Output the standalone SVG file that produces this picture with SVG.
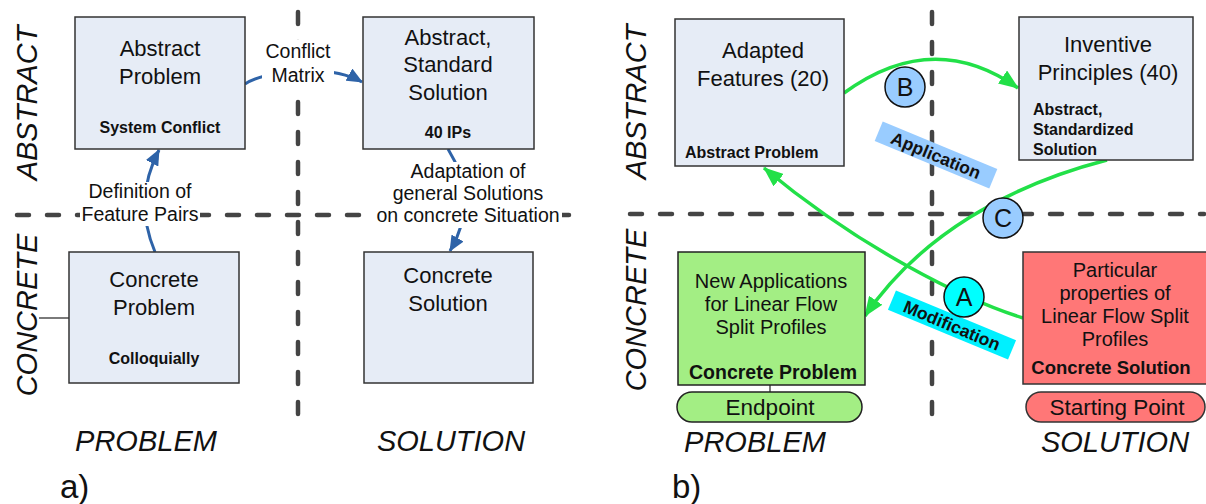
<svg xmlns="http://www.w3.org/2000/svg" width="1206" height="504" viewBox="0 0 1206 504">
<style>
text{font-family:"Liberation Sans",Arial,sans-serif;fill:#111}
.box{fill:#E6ECF6;stroke:#333;stroke-width:1.5}
.t{font-size:22px;text-anchor:middle}
.lb{font-size:19.5px;text-anchor:middle}
.bd{font-size:16px;font-weight:bold;text-anchor:middle}
.ax{font-size:29px;font-style:italic;text-anchor:middle}
.dash{stroke:#444;stroke-width:4.5;stroke-dasharray:12 18;stroke-linecap:round;fill:none}
.blue{stroke:#2E63A8;stroke-width:3;fill:none}
.green{stroke:#22E048;stroke-width:3.5;fill:none}
.circ{stroke:#111;stroke-width:1.5}
.ct{font-size:25px;text-anchor:middle}
.wbg{fill:#fff}
</style>
<defs>
<marker id="ab" markerUnits="userSpaceOnUse" markerWidth="16" markerHeight="14" viewBox="0 0 16 14" refX="15" refY="7" orient="auto"><path d="M0,0 L16,7 L0,14 z" fill="#2E63A8"/></marker>
<marker id="ag" markerUnits="userSpaceOnUse" markerWidth="20" markerHeight="16" viewBox="0 0 20 16" refX="19" refY="8" orient="auto"><path d="M0,0 L20,8 L0,16 z" fill="#22E048"/></marker>
</defs>

<!-- grid lines -->
<g id="grid">
<line class="dash" x1="17" y1="215" x2="585" y2="215"/>
<line class="dash" x1="298" y1="12" x2="298" y2="432"/>
<line class="dash" x1="630" y1="214" x2="1204" y2="214"/>
<line class="dash" x1="932" y1="12" x2="932" y2="432"/>
</g>

<!-- axis labels -->
<g id="axes">
<text class="ax" transform="translate(37,103) rotate(-90)">ABSTRACT</text>
<text class="ax" transform="translate(37,315) rotate(-90)">CONCRETE</text>
<text class="ax" x="146" y="451">PROBLEM</text>
<text class="ax" x="451" y="451">SOLUTION</text>
<text style="font-size:33px" x="60" y="498">a)</text>
<text class="ax" transform="translate(646,102) rotate(-90)">ABSTRACT</text>
<text class="ax" transform="translate(646,310) rotate(-90)">CONCRETE</text>
<text class="ax" x="755" y="452">PROBLEM</text>
<text class="ax" x="1115" y="452">SOLUTION</text>
<text style="font-size:33px" x="672" y="498">b)</text>
</g>

<!-- connectors -->
<g id="connectors">
<path class="blue" d="M245,84 C266,70 330,64 362,82" marker-end="url(#ab)"/>
<path class="blue" d="M155,252 Q133,200 159,150" marker-end="url(#ab)"/>
<path class="blue" d="M448,149 Q480,200 450,251" marker-end="url(#ab)"/>
<line x1="39" y1="318" x2="69" y2="318" stroke="#222" stroke-width="1.2"/>
<line x1="770" y1="385" x2="770" y2="392" stroke="#222" stroke-width="1.2"/>
<path class="green" d="M844,93 Q933,28 1018,88" marker-end="url(#ag)"/>
<path class="green" d="M1107,160 C1010,185 920,235 865,316" marker-end="url(#ag)"/>
<path class="green" d="M1023,318 C965,300 860,248 764,168" marker-end="url(#ag)"/>
</g>

<!-- connector labels -->
<g id="label-conflict">
<rect class="wbg" x="262" y="40" width="72" height="48"/>
<text class="lb" x="298" y="58">Conflict</text>
<text class="lb" x="298" y="82">Matrix</text>
</g>
<g id="label-definition">
<rect class="wbg" x="80" y="182" width="120" height="44"/>
<text class="lb" x="140" y="198">Definition of</text>
<text class="lb" x="140" y="221">Feature Pairs</text>
</g>
<g id="label-adaptation">
<rect class="wbg" x="373" y="162" width="189" height="66"/>
<text class="lb" x="468" y="178">Adaptation of</text>
<text class="lb" x="468" y="200">general Solutions</text>
<text class="lb" x="468" y="222">on concrete Situation</text>
</g>
<g id="label-application" transform="translate(936,155) rotate(22.5)">
<rect x="-62" y="-10.5" width="124" height="21" fill="#99CCFF"/>
<text x="0" y="6.5" style="font-size:17.5px;font-weight:bold;text-anchor:middle">Application</text>
</g>
<g id="label-modification" transform="translate(952,325) rotate(22.5)">
<rect x="-65" y="-10.5" width="130" height="21" fill="#00F0FF"/>
<text x="0" y="6.5" style="font-size:17.5px;font-weight:bold;text-anchor:middle">Modification</text>
</g>
<g id="circle-B"><circle class="circ" cx="905" cy="87" r="20" fill="#99CCFF"/><text class="ct" x="905" y="96">B</text></g>
<g id="circle-C"><circle class="circ" cx="1003" cy="218" r="20" fill="#99CCFF"/><text class="ct" x="1003" y="227">C</text></g>
<g id="circle-A"><circle class="circ" cx="964" cy="297" r="20" fill="#00FFFF"/><text class="ct" x="964" y="306">A</text></g>

<!-- panel a nodes -->
<g id="abstract-problem">
<rect class="box" x="75" y="17" width="170" height="132"/>
<text class="t" x="160" y="56">Abstract</text>
<text class="t" x="160" y="84">Problem</text>
<text class="bd" x="160" y="133">System Conflict</text>
</g>
<g id="abstract-solution">
<rect class="box" x="363" y="17" width="171" height="132"/>
<text class="t" x="448" y="45">Abstract,</text>
<text class="t" x="448" y="72">Standard</text>
<text class="t" x="448" y="100">Solution</text>
<text class="bd" x="448" y="138">40 IPs</text>
</g>
<g id="concrete-problem">
<rect class="box" x="69" y="252" width="170" height="131"/>
<text class="t" x="154" y="287">Concrete</text>
<text class="t" x="154" y="315">Problem</text>
<text class="bd" x="154" y="364">Colloquially</text>
</g>
<g id="concrete-solution">
<rect class="box" x="364" y="252" width="169" height="131"/>
<text class="t" x="448" y="283">Concrete</text>
<text class="t" x="448" y="311">Solution</text>
</g>

<!-- panel b nodes -->
<g id="adapted-features">
<rect class="box" x="675" y="19" width="169" height="147"/>
<text class="t" x="763" y="58">Adapted</text>
<text class="t" x="763" y="86">Features (20)</text>
<text x="685" y="158" style="font-size:16px;font-weight:bold">Abstract Problem</text>
</g>
<g id="inventive-principles">
<rect class="box" x="1019" y="17" width="174" height="143"/>
<text class="t" x="1108" y="52">Inventive</text>
<text class="t" x="1108" y="80">Principles (40)</text>
<text x="1033" y="115" style="font-size:16px;font-weight:bold">Abstract,</text>
<text x="1033" y="135" style="font-size:16px;font-weight:bold">Standardized</text>
<text x="1033" y="155" style="font-size:16px;font-weight:bold">Solution</text>
</g>
<g id="new-applications">
<rect x="678" y="252" width="187" height="133" fill="#A3EE84" stroke="#222" stroke-width="1.5"/>
<text x="771" y="288" style="font-size:20px;text-anchor:middle">New Applications</text>
<text x="771" y="311" style="font-size:20px;text-anchor:middle">for Linear Flow</text>
<text x="771" y="334" style="font-size:20px;text-anchor:middle">Split Profiles</text>
<text x="773" y="379" style="font-size:19.5px;font-weight:bold;text-anchor:middle">Concrete Problem</text>
</g>
<g id="endpoint">
<rect x="677" y="392" width="185" height="30" rx="15" fill="#A3EE84" stroke="#222" stroke-width="1.5"/>
<text x="770" y="415" style="font-size:22.5px;text-anchor:middle">Endpoint</text>
</g>
<g id="particular-properties">
<rect x="1023" y="252" width="190" height="132" fill="#FF7777" stroke="#333" stroke-width="1.5"/>
<text x="1115" y="277" style="font-size:20px;text-anchor:middle">Particular</text>
<text x="1115" y="300" style="font-size:20px;text-anchor:middle">properties of</text>
<text x="1115" y="323" style="font-size:20px;text-anchor:middle">Linear Flow Split</text>
<text x="1115" y="346" style="font-size:20px;text-anchor:middle">Profiles</text>
<text x="1111" y="374" style="font-size:18.5px;font-weight:bold;text-anchor:middle">Concrete Solution</text>
</g>
<g id="starting-point">
<rect x="1026" y="392" width="179" height="30" rx="15" fill="#FF7777" stroke="#333" stroke-width="1.5"/>
<text x="1117" y="415" style="font-size:22.5px;text-anchor:middle">Starting Point</text>
</g>
</svg>
